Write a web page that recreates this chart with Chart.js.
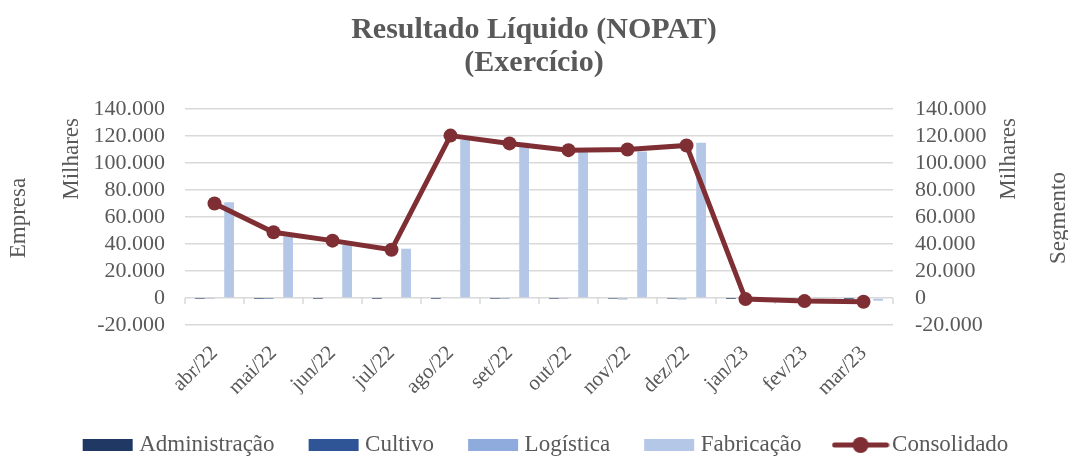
<html>
<head>
    <script src="https://cdn.jsdelivr.net/npm/chart.js"></script>
    <style>
        body { margin: 0; background: #ffffff; }
        #wrap { width: 1068px; height: 457px; }
    </style>
</head>
<body>
<div id="wrap"><canvas id="nopatChart" width="1068" height="457"></canvas></div>

<script>
    // data (milhares)
    var meses = ["abr/22", "mai/22", "jun/22", "jul/22", "ago/22", "set/22", "out/22", "nov/22", "dez/22", "jan/23", "fev/23", "mar/23"];
    var administracao = [-150, -100, -100, -100, -100, -150, -150, -200, -200, -50, -50, -50];
    var cultivo = [-700, -200, 0, 0, 0, -300, -400, -900, -900, 0, 0, 0];
    var logistica = [0, 0, 0, 0, 0, 0, 0, 0, 0, 0, 0, 0];
    var fabricacao = [71000, 45500, 39500, 36500, 117000, 115000, 108500, 108500, 115000, -300, -800, -2000];
    var consolidado = [70000, 48700, 42500, 35700, 120300, 114500, 109500, 110000, 113000, -800, -2300, -2800];

    var eixoMin = -20000, eixoMax = 140000, eixoPasso = 20000;

    var cinza = '#595959';
    var serif = "'Liberation Serif', 'Times New Roman', serif";

    function fmt(v) {
        var neg = v < 0;
        var s = String(Math.abs(Math.round(v)));
        s = s.replace(/\B(?=(\d{3})+(?!\d))/g, '.');
        return (neg ? '-' : '') + s;
    }

    // legend images
    function boxImg(color) {
        var c = document.createElement('canvas');
        c.width = 52; c.height = 14;
        var g = c.getContext('2d');
        g.fillStyle = color;
        g.fillRect(1, 1, 50, 12);
        return c;
    }
    function lineImg(color) {
        var c = document.createElement('canvas');
        c.width = 58; c.height = 18;
        var g = c.getContext('2d');
        g.strokeStyle = color;
        g.lineWidth = 5;
        g.lineCap = 'round';
        g.beginPath(); g.moveTo(3, 9); g.lineTo(55, 9); g.stroke();
        g.fillStyle = color;
        g.beginPath(); g.arc(29, 9, 8, 0, Math.PI * 2); g.fill();
        return c;
    }

    var cores = { adm: '#203864', cul: '#2F5597', log: '#8FAADC', fab: '#B4C7E7', con: '#7F2F33' };

    // axis titles + tick marks on the zero line
    var extras = {
        id: 'extras',
        afterLayout: function (chart) {
            // Excel centres the legend row without the trailing gap
            var lg = chart.legend;
            lg.left += 14; lg.right += 14;
        },
        beforeDatasetsDraw: function (chart) {
            var ctx = chart.ctx, x = chart.scales.x, y = chart.scales.y, a = chart.chartArea;
            var y0 = y.getPixelForValue(0);
            ctx.save();
            ctx.strokeStyle = '#D9D9D9';
            ctx.lineWidth = 1.5;
            ctx.beginPath();
            for (var i = 0; i <= meses.length; i++) {
                var px;
                if (i == 0) px = a.left;
                else if (i == meses.length) px = a.right;
                else px = (x.getPixelForValue(i - 1) + x.getPixelForValue(i)) / 2;
                ctx.moveTo(px, y0);
                ctx.lineTo(px, y0 + 6);
            }
            ctx.stroke();
            ctx.restore();
        },
        afterDraw: function (chart) {
            var ctx = chart.ctx, a = chart.chartArea;
            ctx.save();
            ctx.fillStyle = cinza;
            ctx.font = '23px ' + serif;
            ctx.textBaseline = 'middle';
            function rot(txt, cx, cy, align) {
                ctx.save();
                ctx.translate(cx, cy);
                ctx.rotate(-Math.PI / 2);
                ctx.textAlign = align;
                ctx.fillText(txt, 0, 0);
                ctx.restore();
            }
            rot('Empresa', 19, 218, 'center');
            rot('Milhares', 72, a.top + 9, 'right');
            rot('Milhares', 1009, a.top + 9, 'right');
            rot('Segmento', 1059, 218, 'center');
            ctx.restore();
        }
    };

    function barSet(label, data, color) {
        return {
            type: 'bar',
            label: label,
            data: data,
            backgroundColor: color,
            borderWidth: 0,
            yAxisID: 'y',
            categoryPercentage: 0.66,
            barPercentage: 1.0,
            order: 2
        };
    }

    var legendImgs = [boxImg(cores.adm), boxImg(cores.cul), boxImg(cores.log), boxImg(cores.fab), lineImg(cores.con)];

    new Chart(document.getElementById('nopatChart'), {
        data: {
            labels: meses,
            datasets: [
                barSet('Administração', administracao, cores.adm),
                barSet('Cultivo', cultivo, cores.cul),
                barSet('Logística', logistica, cores.log),
                barSet('Fabricação', fabricacao, cores.fab),
                {
                    type: 'line',
                    label: 'Consolidado',
                    data: consolidado,
                    borderColor: cores.con,
                    backgroundColor: cores.con,
                    borderWidth: 5,
                    pointRadius: 7,
                    pointHoverRadius: 7,
                    pointBackgroundColor: cores.con,
                    pointBorderWidth: 0,
                    tension: 0,
                    yAxisID: 'y1',
                    order: 1
                }
            ]
        },
        options: {
            responsive: false,
            animation: false,
            layout: { padding: { left: 0, right: 0, top: 0, bottom: -9.5 } },
            plugins: {
                title: {
                    display: true,
                    text: ['Resultado Líquido (NOPAT)', '(Exercício)'],
                    color: cinza,
                    font: { family: serif, size: 30, weight: 'bold', lineHeight: 1.1 },
                    padding: { top: 13.5, bottom: 29.5 }
                },
                legend: {
                    position: 'bottom',
                    labels: {
                        usePointStyle: true,
                        pointStyleWidth: 40,
                        boxHeight: 14,
                        padding: 39,
                        color: cinza,
                        font: { family: serif, size: 23 },
                        sort: function (a, b) { return a.datasetIndex - b.datasetIndex; },
                        generateLabels: function (chart) {
                            var items = Chart.defaults.plugins.legend.labels.generateLabels(chart);
                            items.forEach(function (it) {
                                it.pointStyle = legendImgs[it.datasetIndex];
                            });
                            return items;
                        }
                    }
                },
                tooltip: { enabled: false }
            },
            scales: {
                x: {
                    grid: { display: false },
                    border: { display: false },
                    ticks: {
                        color: cinza,
                        font: { family: serif, size: 21 },
                        minRotation: 45,
                        maxRotation: 45,
                        padding: 8
                    },
                    afterFit: function (s) { s.height = 69.5; }
                },
                y: {
                    position: 'left',
                    min: eixoMin,
                    max: eixoMax,
                    ticks: {
                        stepSize: eixoPasso,
                        autoSkip: false,
                        color: cinza,
                        font: { family: serif, size: 22 },
                        padding: 20,
                        callback: function (v) { return fmt(v); }
                    },
                    grid: { color: '#D9D9D9', lineWidth: 1.5, drawTicks: false },
                    border: { display: false },
                    afterFit: function (s) { s.width = 185; }
                },
                y1: {
                    position: 'right',
                    min: eixoMin,
                    max: eixoMax,
                    ticks: {
                        stepSize: eixoPasso,
                        autoSkip: false,
                        color: cinza,
                        font: { family: serif, size: 22 },
                        padding: 22,
                        callback: function (v) { return fmt(v); }
                    },
                    grid: { display: false, drawTicks: false },
                    border: { display: false },
                    afterFit: function (s) { s.width = 175; }
                }
            }
        },
        plugins: [extras]
    });
</script>
</body>
</html>
